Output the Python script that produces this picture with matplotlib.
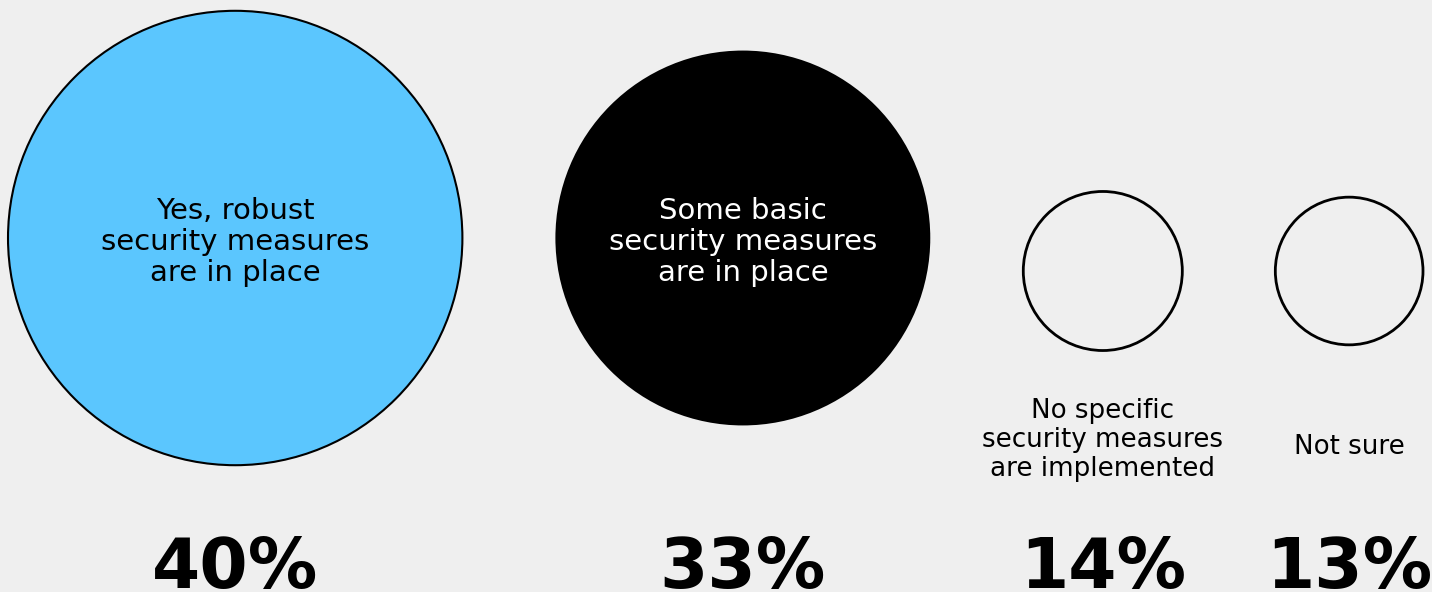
import matplotlib.pyplot as plt
from matplotlib.patches import Circle

# Datos del gráfico
labels = ["Yes, robust\nsecurity measures\nare in place",
          "Some basic\nsecurity measures\nare in place",
          "No specific\nsecurity measures\nare implemented",
          "Not sure"]
values = [40, 33, 14, 13]
pct_labels = ["40%", "33%", "14%", "13%"]
fills = ["#5BC6FE", "#000000", "none", "none"]
text_colors = ["#000000", "#ffffff", "#000000", "#000000"]
inside = [True, True, False, False]

BG = "#efefef"
SCALE = 5.68   # radio en px por punto porcentual
GAP = 93       # separación entre círculos
FONT = "DejaVu Sans"

fig = plt.figure(figsize=(14.32, 5.92), dpi=100, facecolor=BG)
ax = fig.add_axes([0, 0, 1, 1])
ax.set_facecolor(BG)
ax.set_xlim(0, 1432)
ax.set_ylim(592, 0)
ax.set_aspect("equal")
ax.axis("off")

left = 8
for lab, v, pct, fc, tc, ins in zip(labels, values, pct_labels, fills, text_colors, inside):
    r = v * SCALE
    cx = left + r
    cy = 238 if ins else 271
    if fc == "#000000":
        circ = Circle((cx, cy), r, facecolor=fc, edgecolor="none")
    elif fc == "none":
        circ = Circle((cx, cy), r, facecolor="none", edgecolor="black", lw=2.0)
    else:
        circ = Circle((cx, cy), r, facecolor=fc, edgecolor="black", lw=1.5)
    ax.add_patch(circ)

    if ins:
        ax.text(cx, cy + 4, lab, ha="center", va="center", color=tc,
                fontsize=21, family=FONT, linespacing=1.14)
    else:
        ty = 440 if "\n" in lab else 447
        ax.text(cx, ty, lab, ha="center", va="center", color=tc,
                fontsize=18.8, family=FONT, linespacing=1.14)

    ax.text(cx, 535, pct, ha="center", va="top", color="black",
            fontsize=50, fontweight="bold", family="DejaVu Sans")

    left = cx + r + GAP

fig.savefig("out.png", dpi=100, facecolor=BG)
